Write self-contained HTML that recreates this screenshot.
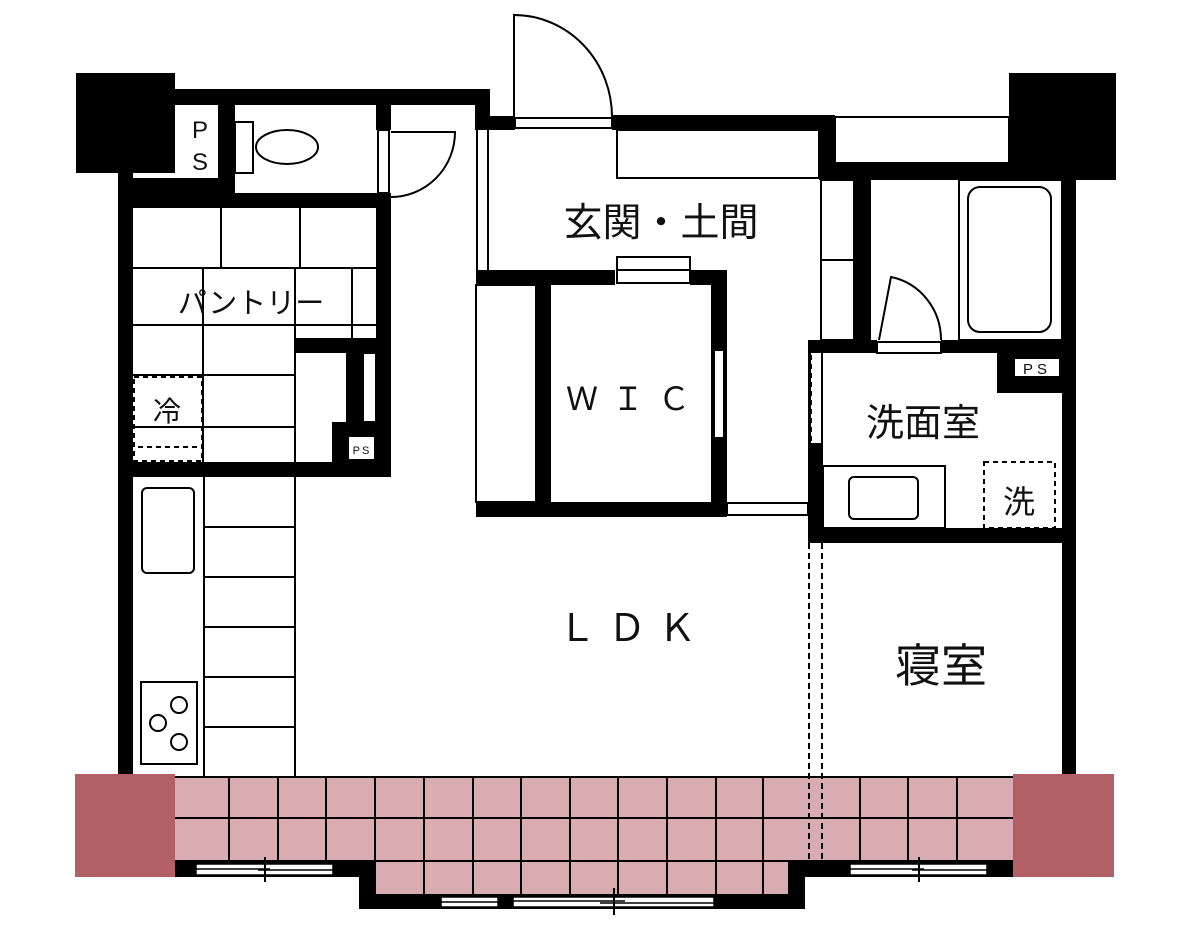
<!DOCTYPE html>
<html><head><meta charset="utf-8"><style>
html,body{margin:0;padding:0;background:#fff;width:1200px;height:931px;overflow:hidden}
svg text{font-family:"Liberation Sans","Noto Sans CJK JP",sans-serif;fill:#111}
</style></head><body>
<svg width="1200" height="931" viewBox="0 0 1200 931" xmlns="http://www.w3.org/2000/svg">
<g fill="#000">
<rect x="76" y="73" width="99" height="100"/>
<rect x="1009" y="73" width="107" height="107"/>
<rect x="175" y="89" width="315" height="16"/>
<rect x="475" y="89" width="15" height="41"/>
<rect x="475" y="116" width="40" height="14"/>
<rect x="612" y="115" width="223" height="15"/>
<rect x="819" y="115" width="16" height="65"/>
<rect x="819" y="163" width="257" height="17"/>
<rect x="118" y="173" width="15" height="602"/>
<rect x="118" y="178" width="117" height="15"/>
<rect x="218" y="105" width="17" height="88"/>
<rect x="118" y="193" width="273" height="15"/>
<rect x="376" y="105" width="15" height="25"/>
<rect x="376" y="193" width="15" height="284"/>
<rect x="118" y="462" width="273" height="15"/>
<rect x="295" y="338" width="81" height="15"/>
<rect x="347" y="353" width="16" height="70"/>
<rect x="332" y="422" width="44" height="40"/>
<rect x="476" y="270" width="139" height="15"/>
<rect x="690" y="270" width="37" height="15"/>
<rect x="536" y="285" width="15" height="220"/>
<rect x="711" y="270" width="16" height="247"/>
<rect x="476" y="502" width="251" height="15"/>
<rect x="854" y="180" width="17" height="162"/>
<rect x="808" y="340" width="69" height="13"/>
<rect x="941" y="340" width="135" height="13"/>
<rect x="997" y="353" width="65" height="40"/>
<rect x="808" y="443" width="15" height="100"/>
<rect x="808" y="340" width="3" height="103"/>
<rect x="808" y="528" width="268" height="15"/>
<rect x="1062" y="180" width="14" height="595"/>
<rect x="175" y="861" width="200" height="16"/>
<rect x="359" y="861" width="16" height="48"/>
<rect x="359" y="894" width="446" height="15"/>
<rect x="788" y="861" width="17" height="48"/>
<rect x="788" y="861" width="225" height="16"/>
</g>
<g fill="#fff" stroke="#000" stroke-width="2">
<rect x="1014" y="358" width="46" height="19"/>
<rect x="348" y="436" width="27" height="24"/>
<rect x="363" y="353" width="13" height="69"/>
<rect x="714" y="350" width="10" height="88"/>
<rect x="515" y="118" width="97" height="10"/>
<rect x="617" y="257" width="73" height="26"/>
<line x1="617" y1="270" x2="690" y2="270"/>
<rect x="877" y="342" width="64" height="11"/>
<rect x="727" y="503" width="81" height="12"/>
</g>
<g fill="none" stroke="#000" stroke-width="2">
<rect x="835" y="117" width="174" height="46"/>
<rect x="617" y="130" width="202" height="48"/>
<line x1="477" y1="130" x2="477" y2="270"/><line x1="488" y1="130" x2="488" y2="270"/>
<rect x="821" y="180" width="33" height="160"/><line x1="821" y1="260" x2="854" y2="260"/>
<path d="M514 117 V15 A98 102 0 0 1 612 117"/>
<rect x="235" y="122" width="18" height="51"/>
<ellipse cx="287" cy="147" rx="31" ry="17"/>
<rect x="378" y="130" width="11" height="63"/>
<path d="M391 132 H455 A64 65 0 0 1 391 197"/>
<line x1="133" y1="268" x2="376" y2="268"/>
<line x1="221" y1="208" x2="221" y2="268"/><line x1="300" y1="208" x2="300" y2="268"/>
<line x1="133" y1="325" x2="376" y2="325"/>
<line x1="203" y1="268" x2="203" y2="462"/><line x1="295" y1="268" x2="295" y2="462"/>
<line x1="352" y1="268" x2="352" y2="338"/>
<line x1="133" y1="375" x2="295" y2="375"/><line x1="133" y1="427" x2="295" y2="427"/>
<line x1="347" y1="353" x2="347" y2="422"/>
<rect x="476" y="285" width="60" height="217"/>
<rect x="959" y="180" width="103" height="160"/>
<rect x="968" y="187" width="83" height="145" rx="12"/>
<path d="M879 340 L891 277 A62 64 0 0 1 941 340"/>
<rect x="823" y="466" width="122" height="62"/>
<rect x="849" y="477" width="69" height="42" rx="5"/>
<line x1="822" y1="353" x2="822" y2="443"/>
<line x1="204" y1="477" x2="204" y2="777"/><line x1="295" y1="477" x2="295" y2="777"/>
<line x1="204" y1="527" x2="295" y2="527"/><line x1="204" y1="577" x2="295" y2="577"/>
<line x1="204" y1="627" x2="295" y2="627"/><line x1="204" y1="677" x2="295" y2="677"/>
<line x1="204" y1="727" x2="295" y2="727"/>
<rect x="142" y="488" width="52" height="85" rx="5"/>
<rect x="141" y="682" width="56" height="82"/>
<circle cx="179" cy="705" r="8"/><circle cx="158" cy="723" r="8"/><circle cx="179" cy="742" r="8"/>
</g>
<g fill="none" stroke="#000" stroke-width="2" stroke-dasharray="5,4">
<rect x="134" y="377" width="68" height="84"/>
<line x1="138" y1="447" x2="202" y2="447"/>
<rect x="984" y="462" width="71" height="66"/>
<line x1="811" y1="355" x2="811" y2="443"/>
</g>
<rect x="75" y="774" width="100" height="103" fill="#b35f66"/>
<rect x="1013" y="774" width="101" height="103" fill="#b35f66"/>
<rect x="175" y="777" width="838" height="84" fill="#d9acb1"/>
<rect x="375" y="861" width="413" height="33" fill="#d9acb1"/>
<g stroke="#000" stroke-width="2">
<line x1="175" y1="777" x2="1013" y2="777"/>
<line x1="175" y1="818" x2="1013" y2="818"/>
<line x1="175" y1="861" x2="1013" y2="861"/>
<line x1="229" y1="777" x2="229" y2="861"/><line x1="278" y1="777" x2="278" y2="861"/>
<line x1="326" y1="777" x2="326" y2="861"/><line x1="375" y1="777" x2="375" y2="894"/>
<line x1="424" y1="777" x2="424" y2="894"/><line x1="473" y1="777" x2="473" y2="894"/>
<line x1="521" y1="777" x2="521" y2="894"/><line x1="570" y1="777" x2="570" y2="894"/>
<line x1="618" y1="777" x2="618" y2="894"/><line x1="667" y1="777" x2="667" y2="894"/>
<line x1="716" y1="777" x2="716" y2="894"/><line x1="763" y1="777" x2="763" y2="894"/>
<line x1="860" y1="777" x2="860" y2="861"/><line x1="908" y1="777" x2="908" y2="861"/>
<line x1="957" y1="777" x2="957" y2="861"/>
</g>
<g fill="none" stroke="#000" stroke-width="2" stroke-dasharray="6,4">
<line x1="809" y1="543" x2="809" y2="862"/><line x1="822" y1="543" x2="822" y2="862"/>
</g>
<g fill="#fff" stroke="#000" stroke-width="1.5">
<rect x="196" y="864" width="137" height="11"/><line x1="196" y1="869" x2="270" y2="869"/><line x1="258" y1="870" x2="333" y2="870"/>
<rect x="441" y="897" width="57" height="10"/><line x1="441" y1="902" x2="498" y2="902"/>
<rect x="513" y="897" width="201" height="10"/><line x1="513" y1="901" x2="625" y2="901"/><line x1="600" y1="903" x2="714" y2="903"/>
<rect x="850" y="864" width="137" height="11"/><line x1="850" y1="869" x2="924" y2="869"/><line x1="912" y1="870" x2="987" y2="870"/>
</g>
<g stroke="#000" stroke-width="2">
<line x1="265" y1="857" x2="265" y2="882"/><line x1="614" y1="888" x2="614" y2="915"/><line x1="919" y1="857" x2="919" y2="882"/>
</g>
<text x="661" y="236" font-size="39" text-anchor="middle">玄関・土間</text>
<text x="635" y="410" font-size="32" text-anchor="middle" letter-spacing="14">ＷＩＣ</text>
<text x="633" y="641" font-size="38" text-anchor="middle" letter-spacing="12">ＬＤＫ</text>
<text x="941" y="682" font-size="46" text-anchor="middle">寝室</text>
<text x="923" y="436" font-size="38" text-anchor="middle">洗面室</text>
<text x="251" y="313" font-size="29" text-anchor="middle">パントリー</text>
<text x="167" y="421" font-size="28" text-anchor="middle">冷</text>
<text x="1019" y="513" font-size="32" text-anchor="middle">洗</text>
<text x="200" y="138" font-size="24" text-anchor="middle">P</text>
<text x="200" y="170" font-size="24" text-anchor="middle">S</text>
<text x="1037" y="374" font-size="15" text-anchor="middle" letter-spacing="4">PS</text>
<text x="362" y="454" font-size="11" text-anchor="middle" letter-spacing="2">PS</text>
</svg>
</body></html>
